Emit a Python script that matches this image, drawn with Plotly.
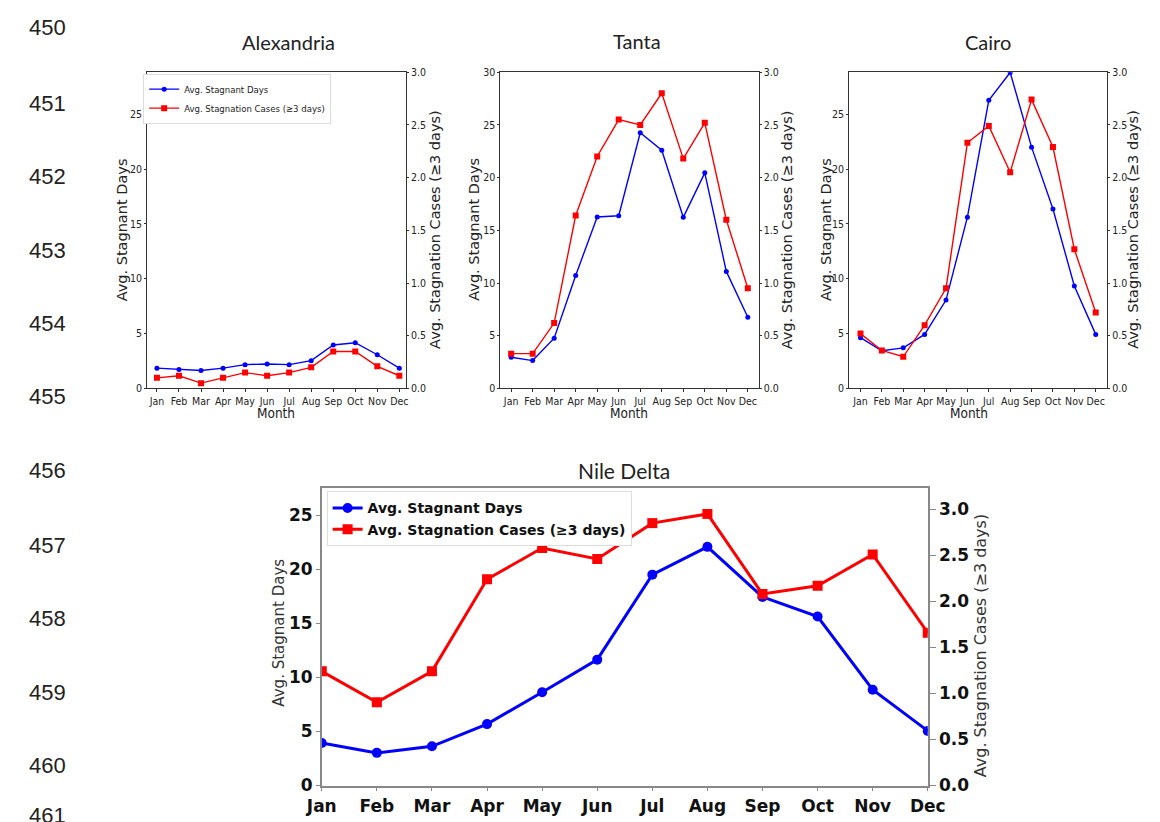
import plotly.graph_objects as go

# ---------------- data ----------------
months = ["Jan", "Feb", "Mar", "Apr", "May", "Jun", "Jul", "Aug", "Sep", "Oct", "Nov", "Dec"]

alex_days = [1.85, 1.73, 1.64, 1.85, 2.17, 2.23, 2.17, 2.53, 3.96, 4.17, 3.07, 1.85]
alex_cases = [0.10, 0.12, 0.05, 0.10, 0.15, 0.12, 0.15, 0.20, 0.35, 0.35, 0.21, 0.12]

tanta_days = [2.95, 2.64, 4.76, 10.72, 16.26, 16.38, 24.25, 22.6, 16.23, 20.45, 11.1, 6.75]
tanta_cases = [0.33, 0.33, 0.62, 1.64, 2.20, 2.55, 2.50, 2.80, 2.18, 2.52, 1.60, 0.95]

cairo_days = [4.63, 3.43, 3.70, 4.93, 8.06, 15.62, 26.28, 28.82, 22.01, 16.37, 9.35, 4.93]
cairo_cases = [0.52, 0.36, 0.30, 0.60, 0.95, 2.33, 2.49, 2.05, 2.74, 2.29, 1.32, 0.72]

nile_days = [3.93, 3.02, 3.63, 5.68, 8.62, 11.64, 19.5, 22.07, 17.44, 15.63, 8.86, 5.05]
nile_cases = [1.24, 0.905, 1.24, 2.24, 2.58, 2.46, 2.85, 2.95, 2.08, 2.17, 2.51, 1.66]

line_numbers = ["450", "451", "452", "453", "454", "455", "456", "457", "458", "459", "460", "461"]

days_label = "Avg. Stagnant Days"
cases_label = "Avg. Stagnation Cases (≥3 days)"

# ---------------- layout helpers ----------------
W, H = 1160, 822
def fx(px):
    return px / W
def fy(py):
    return 1 - py / H

BLUE = "#0000ff"
RED = "#ff0000"
SMALL_FONT = "DejaVu Sans Condensed, DejaVu Sans, sans-serif"
REG_FONT = "DejaVu Sans, sans-serif"
TITLE_FONT = "Lato, Open Sans, sans-serif"

fig = go.Figure()

small_panels = [
    ("x", "y", "y2", alex_days, alex_cases, True),
    ("x2", "y3", "y4", tanta_days, tanta_cases, False),
    ("x3", "y5", "y6", cairo_days, cairo_cases, False),
]

for xa, yl, yr, d, c, leg in small_panels:
    fig.add_trace(go.Scatter(
        x=months, y=d, xaxis=xa, yaxis=yl, mode="lines+markers",
        name=days_label, showlegend=leg, legend="legend",
        line=dict(color=BLUE, width=1.4), marker=dict(symbol="circle", size=5, color=BLUE)))
    fig.add_trace(go.Scatter(
        x=months, y=c, xaxis=xa, yaxis=yr, mode="lines+markers",
        name=cases_label, showlegend=leg, legend="legend",
        line=dict(color=RED, width=1.4), marker=dict(symbol="square", size=6, color=RED)))

fig.add_trace(go.Scatter(
    x=months, y=nile_days, xaxis="x4", yaxis="y7", mode="lines+markers",
    name=days_label, legend="legend2",
    line=dict(color=BLUE, width=3), marker=dict(symbol="circle", size=10, color=BLUE)))
fig.add_trace(go.Scatter(
    x=months, y=nile_cases, xaxis="x4", yaxis="y8", mode="lines+markers",
    name=cases_label, legend="legend2",
    line=dict(color=RED, width=3), marker=dict(symbol="square", size=10, color=RED)))

small_tick = dict(family=SMALL_FONT, size=10.5, color="#222")

def small_x(domain, anchor, rng):
    return dict(domain=domain, anchor=anchor, type="category", range=rng,
                showgrid=False, zeroline=False, showline=True, linecolor="#333", linewidth=1,
                mirror=True, ticks="outside", ticklen=3, tickcolor="#333",
                tickfont=small_tick, fixedrange=True)

def small_yl(domain, anchor, rng, dtick):
    return dict(domain=domain, anchor=anchor, range=rng, dtick=dtick, tick0=0,
                showgrid=False, zeroline=False, showline=True, linecolor="#333", linewidth=1,
                ticks="outside", ticklen=2, tickcolor="#333", tickfont=small_tick)

def small_yr(overlay, anchor):
    return dict(overlaying=overlay, anchor=anchor, side="right", range=[0, 3], dtick=0.5,
                tick0=0, tickformat=".1f", showgrid=False, zeroline=False, showline=True,
                linecolor="#333", linewidth=1, ticks="outside", ticklen=2, tickcolor="#333",
                tickfont=small_tick)

ydom_small = [fy(390), fy(67.5)]

nile_tick = dict(family=REG_FONT, size=17, color="#111", weight="bold")

fig.update_layout(
    width=W, height=H, margin=dict(l=0, r=0, t=0, b=0),
    paper_bgcolor="white", plot_bgcolor="white",
    xaxis=small_x([fx(135), fx(401.7)], "y", [-0.45, 11.3]),
    yaxis=small_yl(ydom_small, "x", [0, 28.85], 5),
    yaxis2=small_yr("y", "x"),
    xaxis2=small_x([fx(499), fx(765)], "y3", [-0.5, 11.5]),
    yaxis3=small_yl(ydom_small, "x2", [0, 30], 5),
    yaxis4=small_yr("y3", "x2"),
    xaxis3=small_x([fx(858.3), fx(1124)], "y5", [-0.53, 11.53]),
    yaxis5=small_yl(ydom_small, "x3", [0, 28.85], 5),
    yaxis6=small_yr("y5", "x3"),
    xaxis4=dict(domain=[fx(315), fx(939.3)], anchor="y7", type="category", range=[0, 11],
                showgrid=False, zeroline=False, showline=True, linecolor="#888", linewidth=1.5,
                mirror=True, ticks="outside", ticklen=4, tickcolor="#888", tickfont=nile_tick),
    yaxis7=dict(domain=[fy(795), fy(491.7)], anchor="x4", range=[0, 27.5], dtick=5, tick0=0,
                showgrid=False, zeroline=False, showline=True, linecolor="#888", linewidth=1.5,
                ticks="outside", ticklen=4, tickcolor="#888", tickfont=nile_tick),
    yaxis8=dict(overlaying="y7", anchor="x4", side="right", range=[0, 3.23], dtick=0.5, tick0=0,
                tickformat=".1f", showgrid=False, zeroline=False, showline=True, linecolor="#888",
                linewidth=1.5, ticks="outside", ticklen=6, tickcolor="#888", tickfont=nile_tick),
    legend=dict(x=fx(131), y=fy(69), xanchor="left", yanchor="top",
                font=dict(family=SMALL_FONT, size=9.5, color="#222"),
                bgcolor="white", bordercolor="#dddddd", borderwidth=1, tracegroupgap=0),
    legend2=dict(x=fx(320), y=fy(495), xanchor="left", yanchor="top",
                 font=dict(family=REG_FONT, size=14, color="#111", weight="bold"),
                 bgcolor="white", bordercolor="#dddddd", borderwidth=1, tracegroupgap=0),
)

ann = []
# panel titles
for txt, x, y, size in [("Alexandria", 281, 37, 20), ("Tanta", 640, 36, 20),
                        ("Cairo", 1001, 37, 20), ("Nile Delta", 626.5, 474, 21)]:
    ann.append(dict(text=txt, x=fx(x), y=fy(y), xref="paper", yref="paper", showarrow=False,
                    xanchor="center", yanchor="middle",
                    font=dict(family=TITLE_FONT, size=size, color="#222")))

# axis titles of the small panels
for lx, rx, mx in [(109, 431, 268), (471, 794, 632), (834, 1150, 981.7)]:
    ann.append(dict(text=days_label, x=fx(lx), y=fy(228), xref="paper", yref="paper",
                    showarrow=False, textangle=-90, xanchor="center", yanchor="middle",
                    font=dict(family=REG_FONT, size=14.5, color="#222")))
    ann.append(dict(text=cases_label, x=fx(rx), y=fy(228), xref="paper", yref="paper",
                    showarrow=False, textangle=-90, xanchor="center", yanchor="middle",
                    font=dict(family=REG_FONT, size=14.5, color="#222")))
    ann.append(dict(text="Month", x=fx(mx), y=fy(415), xref="paper", yref="paper",
                    showarrow=False, xanchor="center", yanchor="middle",
                    font=dict(family=SMALL_FONT, size=13.5, color="#222")))

# axis titles of Nile Delta
ann.append(dict(text=days_label, x=fx(270), y=fy(639), xref="paper", yref="paper",
                showarrow=False, textangle=-90, xanchor="center", yanchor="middle",
                font=dict(family=REG_FONT, size=15, color="#333")))
ann.append(dict(text=cases_label, x=fx(993), y=fy(652), xref="paper", yref="paper",
                showarrow=False, textangle=-90, xanchor="center", yanchor="middle",
                font=dict(family=REG_FONT, size=16, color="#333")))

# page line numbers (the last one is cut by the page edge, as in the source)
ln_y = [22, 99, 174, 249, 324, 398, 474, 550, 625, 700, 775, 826]
for t, y in zip(line_numbers, ln_y):
    ann.append(dict(text=t, x=fx(11), y=fy(y), xref="paper", yref="paper",
                    showarrow=False, xanchor="left", yanchor="middle",
                    font=dict(family="Liberation Sans, Arial, sans-serif", size=22, color="#222")))

fig.update_layout(annotations=ann)

fig.write_html("out.html")
